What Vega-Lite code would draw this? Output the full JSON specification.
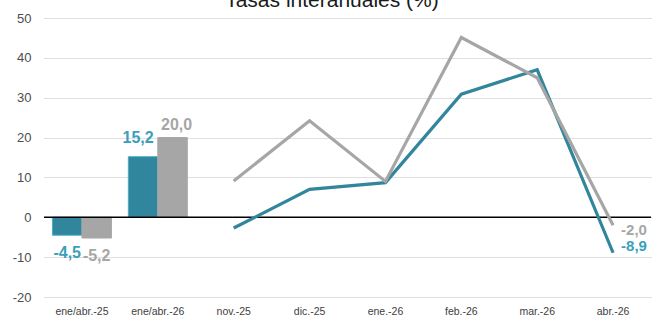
{
  "$schema": "https://vega.github.io/schema/vega-lite/v6.json",
  "width": 607,
  "height": 279,
  "autosize": {"type": "none"},
  "padding": {"left": 44, "top": 18, "right": 4, "bottom": 21},
  "title": {"text": "Tasas interanuales (%)", "font": "Liberation Sans", "fontSize": 21, "fontWeight": "normal", "color": "#1a1a1a", "frame": "bounds", "anchor": "middle", "offset": 1},
  "config": {
    "locale": {"number": {"decimal": ",", "thousands": ".", "grouping": [3], "currency": ["", " €"], "minus": "-"}},
    "view": {"stroke": null},
    "axisY": {"title": null, "tickCount": 7, "domain": false, "ticks": false, "labelPadding": 13, "labelFont": "Liberation Sans", "labelFontSize": 13, "labelColor": "#4d4d4d", "grid": true, "gridColor": "#BFBFBF", "gridDash": [1, 1], "gridWidth": 1},
    "axisX": {"title": null, "labelAngle": 0, "ticks": false, "domain": false, "grid": false, "labelPadding": 9, "labelFont": "Liberation Sans", "labelFontSize": 10.5, "labelColor": "#404040"}
  },
  "data": {"values": [
    {"cat": "ene/abr.-25", "series": "serie1", "value": -4.5, "kind": "bar"},
    {"cat": "ene/abr.-25", "series": "serie2", "value": -5.2, "kind": "bar"},
    {"cat": "ene/abr.-26", "series": "serie1", "value": 15.2, "kind": "bar"},
    {"cat": "ene/abr.-26", "series": "serie2", "value": 20.0, "kind": "bar"},
    {"cat": "nov.-25", "series": "serie1", "value": -2.7, "kind": "line"},
    {"cat": "nov.-25", "series": "serie2", "value": 9.1, "kind": "line"},
    {"cat": "dic.-25", "series": "serie1", "value": 7.0, "kind": "line"},
    {"cat": "dic.-25", "series": "serie2", "value": 24.2, "kind": "line"},
    {"cat": "ene.-26", "series": "serie1", "value": 8.7, "kind": "line"},
    {"cat": "ene.-26", "series": "serie2", "value": 9.0, "kind": "line"},
    {"cat": "feb.-26", "series": "serie1", "value": 30.9, "kind": "line"},
    {"cat": "feb.-26", "series": "serie2", "value": 45.1, "kind": "line"},
    {"cat": "mar.-26", "series": "serie1", "value": 37.0, "kind": "line"},
    {"cat": "mar.-26", "series": "serie2", "value": 35.0, "kind": "line"},
    {"cat": "abr.-26", "series": "serie1", "value": -8.9, "kind": "line"},
    {"cat": "abr.-26", "series": "serie2", "value": -2.0, "kind": "line"}
  ]},
  "layer": [
    {
      "transform": [{"filter": "datum.kind === 'bar'"}],
      "mark": {"type": "bar", "strokeWidth": 1},
      "encoding": {
        "x": {"field": "cat", "type": "nominal", "sort": ["ene/abr.-25", "ene/abr.-26", "nov.-25", "dic.-25", "ene.-26", "feb.-26", "mar.-26", "abr.-26"],
              "scale": {"paddingInner": 0.223, "paddingOuter": 0.1115}},
        "xOffset": {"field": "series", "type": "nominal", "scale": {"paddingInner": 0, "paddingOuter": 0}},
        "y": {"field": "value", "type": "quantitative", "scale": {"domain": [-20, 50], "nice": false, "zero": false}},
        "color": {"field": "series", "type": "nominal", "scale": {"domain": ["serie1", "serie2"], "range": ["#31859C", "#A6A6A6"]}, "legend": null},
        "stroke": {"field": "series", "type": "nominal", "scale": {"domain": ["serie1", "serie2"], "range": ["#4BACC6", "#A6A6A6"]}, "legend": null}
      }
    },
    {
      "data": {"values": [{}]},
      "mark": {"type": "rule", "color": "#000000", "strokeWidth": 1.5},
      "encoding": {"y": {"datum": 0}}
    },
    {
      "transform": [{"filter": "datum.kind === 'line'"}],
      "mark": {"type": "line", "strokeWidth": 3.2, "strokeJoin": "miter"},
      "encoding": {
        "x": {"field": "cat", "type": "nominal", "sort": ["ene/abr.-25", "ene/abr.-26", "nov.-25", "dic.-25", "ene.-26", "feb.-26", "mar.-26", "abr.-26"]},
        "y": {"field": "value", "type": "quantitative"},
        "color": {"field": "series", "type": "nominal", "legend": null}
      }
    },
    {
      "transform": [{"filter": "datum.kind === 'bar' && datum.value > 0 && datum.series === 'serie1'"}],
      "mark": {"type": "text", "baseline": "bottom", "dy": -11, "dx": -5, "font": "Liberation Sans", "fontSize": 16, "fontWeight": "bold"},
      "encoding": {
        "x": {"field": "cat", "type": "nominal", "sort": ["ene/abr.-25", "ene/abr.-26", "nov.-25", "dic.-25", "ene.-26", "feb.-26", "mar.-26", "abr.-26"]},
        "xOffset": {"field": "series", "type": "nominal"},
        "y": {"field": "value", "type": "quantitative"},
        "text": {"field": "value", "type": "quantitative", "format": ".1f"},
        "fill": {"field": "series", "type": "nominal", "scale": {"domain": ["serie1", "serie2"], "range": ["#3AA0BA", "#A6A6A6"]}, "legend": null}
      }
    },
    {
      "transform": [{"filter": "datum.kind === 'bar' && datum.value > 0 && datum.series === 'serie2'"}],
      "mark": {"type": "text", "baseline": "bottom", "dy": -5, "dx": 4, "font": "Liberation Sans", "fontSize": 16, "fontWeight": "bold"},
      "encoding": {
        "x": {"field": "cat", "type": "nominal", "sort": ["ene/abr.-25", "ene/abr.-26", "nov.-25", "dic.-25", "ene.-26", "feb.-26", "mar.-26", "abr.-26"]},
        "xOffset": {"field": "series", "type": "nominal"},
        "y": {"field": "value", "type": "quantitative"},
        "text": {"field": "value", "type": "quantitative", "format": ".1f"},
        "fill": {"field": "series", "type": "nominal", "legend": null}
      }
    },
    {
      "transform": [{"filter": "datum.kind === 'bar' && datum.value < 0"}],
      "mark": {"type": "text", "baseline": "top", "dy": 10, "font": "Liberation Sans", "fontSize": 16, "fontWeight": "bold"},
      "encoding": {
        "x": {"field": "cat", "type": "nominal", "sort": ["ene/abr.-25", "ene/abr.-26", "nov.-25", "dic.-25", "ene.-26", "feb.-26", "mar.-26", "abr.-26"]},
        "xOffset": {"field": "series", "type": "nominal"},
        "y": {"field": "value", "type": "quantitative"},
        "text": {"field": "value", "type": "quantitative", "format": ".1f"},
        "fill": {"field": "series", "type": "nominal", "legend": null}
      }
    },
    {
      "transform": [{"filter": "datum.kind === 'line' && datum.cat === 'abr.-26' && datum.series === 'serie2'"}],
      "mark": {"type": "text", "align": "left", "baseline": "middle", "dx": 8, "dy": 5, "font": "Liberation Sans", "fontSize": 15, "fontWeight": "bold"},
      "encoding": {
        "x": {"field": "cat", "type": "nominal", "sort": ["ene/abr.-25", "ene/abr.-26", "nov.-25", "dic.-25", "ene.-26", "feb.-26", "mar.-26", "abr.-26"]},
        "y": {"field": "value", "type": "quantitative"},
        "text": {"field": "value", "type": "quantitative", "format": ".1f"},
        "fill": {"field": "series", "type": "nominal", "legend": null}
      }
    },
    {
      "transform": [{"filter": "datum.kind === 'line' && datum.cat === 'abr.-26' && datum.series === 'serie1'"}],
      "mark": {"type": "text", "align": "left", "baseline": "middle", "dx": 8, "dy": -7, "font": "Liberation Sans", "fontSize": 15, "fontWeight": "bold"},
      "encoding": {
        "x": {"field": "cat", "type": "nominal", "sort": ["ene/abr.-25", "ene/abr.-26", "nov.-25", "dic.-25", "ene.-26", "feb.-26", "mar.-26", "abr.-26"]},
        "y": {"field": "value", "type": "quantitative"},
        "text": {"field": "value", "type": "quantitative", "format": ".1f"},
        "fill": {"field": "series", "type": "nominal", "legend": null}
      }
    }
  ]
}
